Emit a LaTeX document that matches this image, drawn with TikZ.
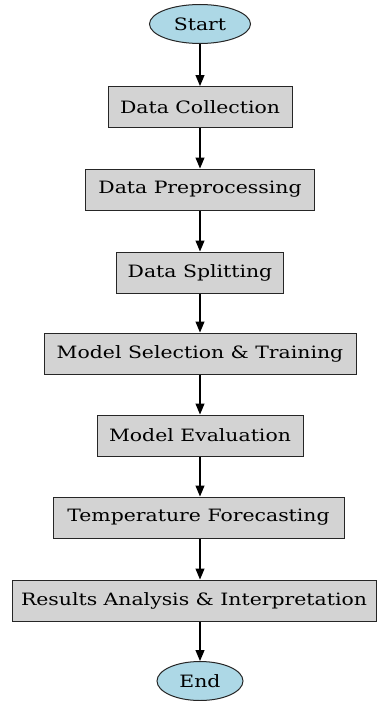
\documentclass[tikz,border=0pt]{standalone}
\usepackage{fontspec}
\setmainfont{DejaVu Serif}[FakeStretch=1.2]
\usetikzlibrary{shapes.geometric,arrows.meta}
\definecolor{boxfill}{HTML}{D3D3D3}
\definecolor{ellfill}{HTML}{ADD8E6}
\begin{document}
\begin{tikzpicture}[x=1pt,y=-1pt,
  stepbox/.style={draw=black!85,line width=1pt,fill=boxfill,rectangle,inner sep=0pt,minimum height=41pt,font=\fontsize{17}{19}\selectfont},
  term/.style={draw=black!85,line width=1pt,fill=ellfill,ellipse,inner sep=0pt,minimum height=39pt,font=\fontsize{17}{19}\selectfont},
  conn/.style={draw=black,line width=1.2pt,-{Triangle[length=11pt,width=9pt]}}]
\useasboundingbox (0,0) rectangle (378,701);
\node[term,minimum width=101pt] (start) at (200,24) {Start};
\node[stepbox,minimum width=184pt] (dc) at (200,107) {Data Collection};
\node[stepbox,minimum width=229pt] (dp) at (200,189.5) {Data Preprocessing};
\node[stepbox,minimum width=167pt] (ds) at (200,272.5) {Data Splitting};
\node[stepbox,minimum width=312pt] (ms) at (200,353.5) {Model Selection \& Training};
\node[stepbox,minimum width=206pt] (me) at (200,435.5) {Model Evaluation};
\node[stepbox,minimum width=291pt] (tf) at (198.5,517.5) {Temperature Forecasting};
\node[stepbox,minimum width=364pt] (ra) at (194,600.5) {Results Analysis \& Interpretation};
\node[term,minimum width=86pt] (end) at (200,681) {End};
\draw[conn] (start) -- (start|-dc.north);
\draw[conn] (dc) -- (dc|-dp.north);
\draw[conn] (dp) -- (dp|-ds.north);
\draw[conn] (ds) -- (ds|-ms.north);
\draw[conn] (ms) -- (ms|-me.north);
\draw[conn] (me) -- (me|-tf.north);
\draw[conn] (tf.south-|dc) -- (dc|-ra.north);
\draw[conn] (ra.south-|dc) -- (end);
\end{tikzpicture}
\end{document}
